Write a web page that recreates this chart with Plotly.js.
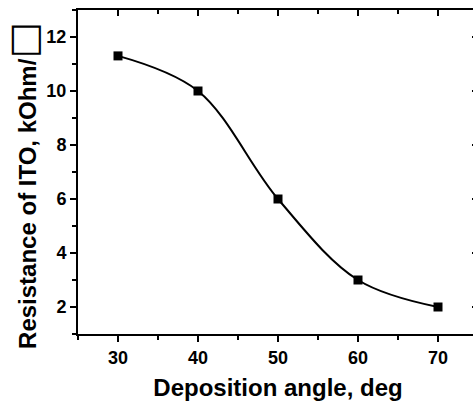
<!DOCTYPE html>
<html>
<head>
<meta charset="utf-8">
<script src="https://cdn.plot.ly/plotly-3.0.1.min.js"></script>
<style>
html,body{margin:0;padding:0;overflow:hidden;background:#fff;width:473px;height:403px;}
#chart{width:478px;height:403px;}
</style>
</head>
<body>
<div id="chart"></div>
<script>
const angles = [30, 40, 50, 60, 70];
const resistance = [11.3, 10.0, 6.0, 3.0, 2.0];
const xTickVals = [30, 40, 50, 60, 70];
const xTickText = ["30", "40", "50", "60", "70"];
const yTickVals = [2, 4, 6, 8, 10, 12];
const yTickText = ["2", "4", "6", "8", "10", "12"];
const xTitle = "Deposition angle, deg";
const yTitle = "Resistance of ITO, kOhm/<span style=\"font-family:'DejaVu Sans';font-size:38px;font-weight:normal\">□</span>";

const fam = "'Liberation Sans', Arial, sans-serif";

const trace = {
  x: angles, y: resistance, type: "scatter", mode: "lines+markers",
  line: {shape: "spline", smoothing: 1, color: "#000", width: 2},
  marker: {symbol: "square", size: 9, color: "#000"},
  hoverinfo: "none"
};

const tickFont = {family: fam, size: 18, color: "#000", weight: "bold"};
const titleFont = {family: fam, size: 24, color: "#000", weight: "bold"};

const layout = {
  width: 478, height: 403,
  margin: {l: 78, r: 0, t: 10, b: 69, pad: 0},
  paper_bgcolor: "#fff", plot_bgcolor: "#fff",
  showlegend: false,
  font: {family: fam, color: "#000"},
  xaxis: {
    range: [25, 75], tickvals: xTickVals, ticktext: xTickText.map(t => "<b>" + t + "</b>"),
    ticks: "outside", ticklen: 6, tickwidth: 2, tickcolor: "#000",
    showline: true, linewidth: 2, linecolor: "#000", zeroline: false, showgrid: false,
    tickfont: tickFont,
    minor: {dtick: 5, tick0: 25, ticks: "outside", ticklen: 4, tickwidth: 2, tickcolor: "#000", showgrid: false},
    title: {text: xTitle, font: titleFont, standoff: 13}
  },
  yaxis: {
    range: [1, 13], tickvals: yTickVals, ticktext: yTickText.map(t => "<b>" + t + "</b>"),
    ticks: "outside", ticklen: 6, tickwidth: 2, tickcolor: "#000",
    showline: true, linewidth: 2, linecolor: "#000", zeroline: false, showgrid: false,
    tickfont: tickFont,
    minor: {dtick: 1, tick0: 1, ticks: "outside", ticklen: 4, tickwidth: 2, tickcolor: "#000", showgrid: false}
  },
  xaxis2: {
    overlaying: "x", matches: "x", side: "top", anchor: "y", range: [25, 75],
    tickvals: xTickVals, ticks: "inside", ticklen: 6, tickwidth: 2, tickcolor: "#000",
    showticklabels: false, showline: true, linewidth: 2, linecolor: "#000", zeroline: false, showgrid: false,
    minor: {dtick: 5, tick0: 25, ticks: "inside", ticklen: 4, tickwidth: 2, tickcolor: "#000", showgrid: false}
  },
  yaxis2: {
    overlaying: "y", matches: "y", side: "right", anchor: "x", range: [1, 13],
    tickvals: yTickVals, ticks: "inside", ticklen: 6, tickwidth: 2, tickcolor: "#000",
    showticklabels: false, showline: true, linewidth: 2, linecolor: "#000", zeroline: false, showgrid: false,
    minor: {dtick: 1, tick0: 1, ticks: "inside", ticklen: 4, tickwidth: 2, tickcolor: "#000", showgrid: false}
  },
  annotations: [{
    text: yTitle, textangle: -90, font: titleFont, showarrow: false,
    xref: "paper", yref: "paper", x: -0.1375, y: 0.457, xanchor: "center", yanchor: "middle"
  }]
};

const ghost = {x: [angles[0]], y: [resistance[0]], xaxis: "x2", yaxis: "y2", type: "scatter", mode: "markers",
  marker: {opacity: 0}, hoverinfo: "none"};

Plotly.newPlot("chart", [trace, ghost], layout, {displayModeBar: false, staticPlot: true});
</script>
</body>
</html>
